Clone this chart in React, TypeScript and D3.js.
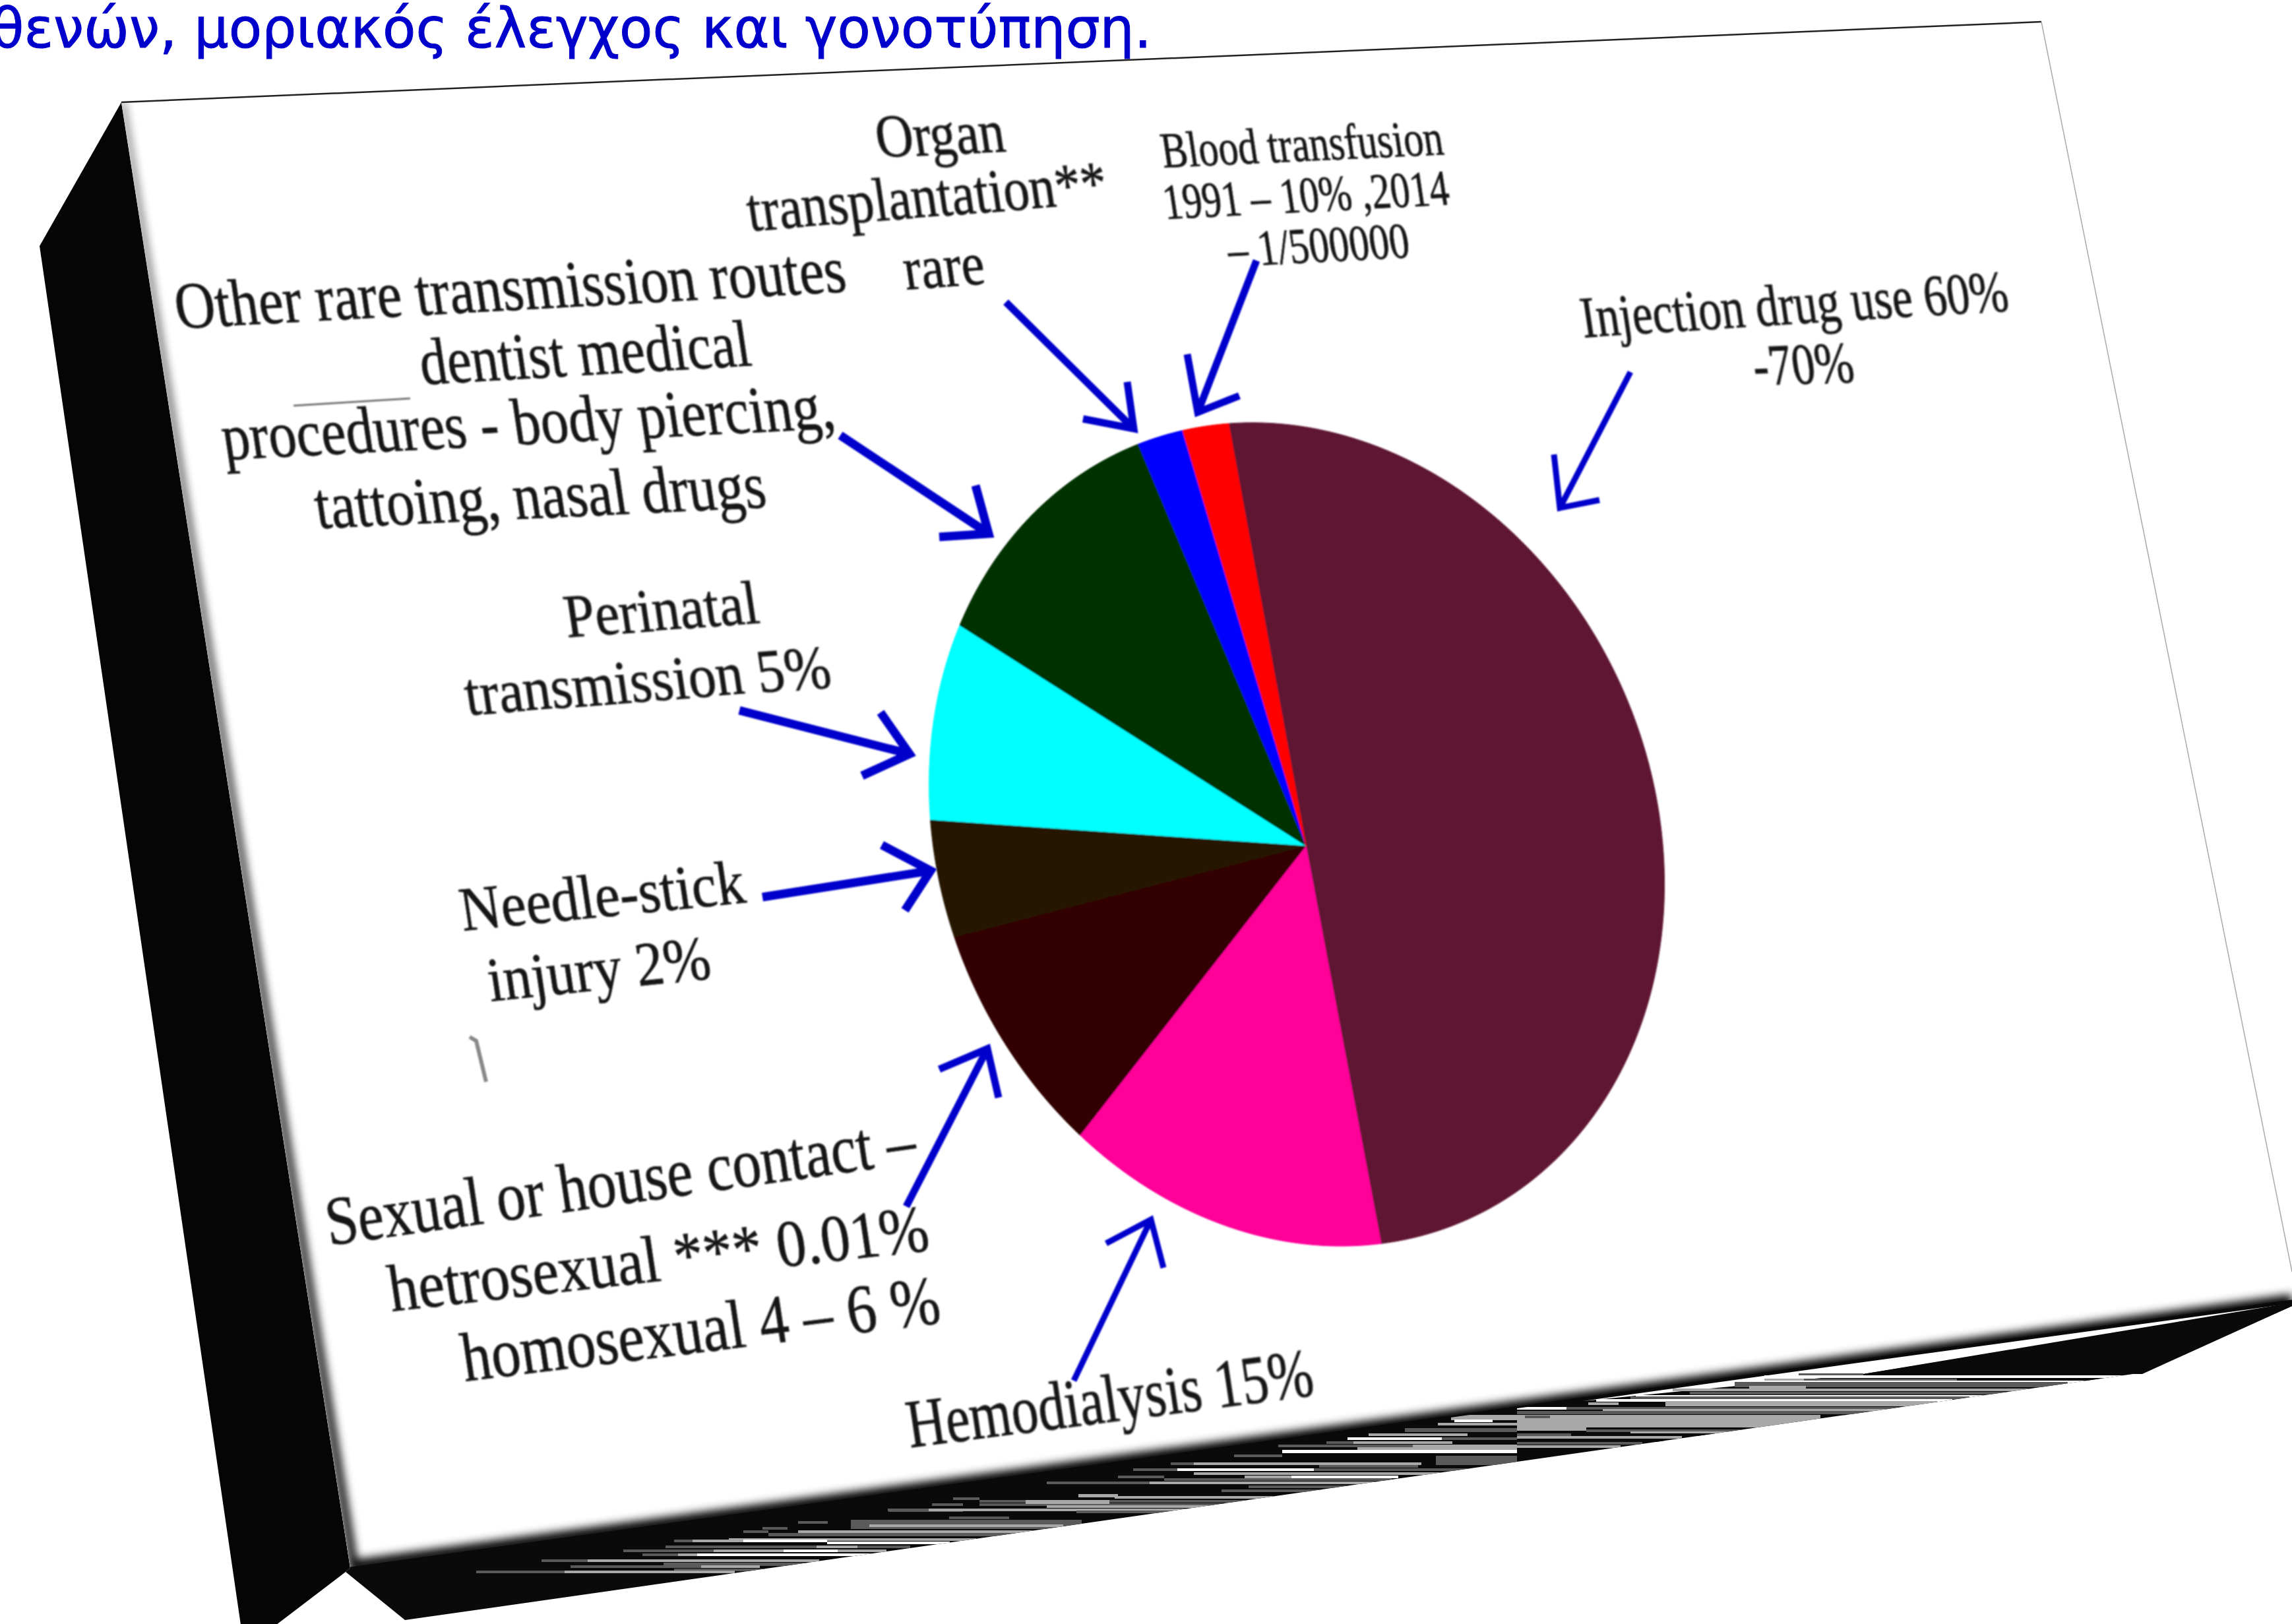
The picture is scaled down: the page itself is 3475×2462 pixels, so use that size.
import React from 'react';
import * as d3 from 'd3';

const W = 3475;
const H = 2462;

// slices, clockwise from the top
const sliceNames = ['Injection drug use', 'Hemodialysis', 'Sexual or house contact', 'Needle-stick injury', 'Perinatal transmission', 'Other rare routes', 'Organ transplantation', 'Blood transfusion'];
const sliceValues = [50, 14, 9, 4.5, 7.7, 11, 2, 2];
const sliceColors = ['#5f1733', '#ff0099', '#300000', '#261800', '#00ffff', '#003000', '#0000ff', '#ff0000'];

const titleText = 'θενών, μοριακός έλεγχος και γονοτύπηση.';

// text, baseline start x/y, baseline end x/y, font size
const labelLines: [string, number, number, number, number, number][] = [
  ['Organ', 1332, 238, 1527, 230, 92],
  ['transplantation**', 1137, 350, 1682, 307, 92],
  ['rare', 1374, 439, 1496, 430, 92],
  ['Blood transfusion', 1764, 254, 2191, 234, 76],
  ['1991 – 10% ,2014', 1767, 332, 2200, 310, 76],
  ['– 1/500000', 1865, 404, 2140, 390, 76],
  ['Injection drug use 60%', 2401, 511, 3048, 470, 88],
  ['-70%', 2662, 584, 2814, 578, 88],
  ['Other rare transmission routes', 270, 498, 1286, 442, 100],
  ['dentist medical', 641, 583, 1142, 554, 100],
  ['procedures - body piercing,', 341, 697, 1269, 649, 100],
  ['tattoing, nasal drugs', 482, 801, 1165, 769, 100],
  ['Perinatal', 860, 966, 1154, 944, 92],
  ['transmission 5%', 709, 1084, 1263, 1041, 92],
  ['Needle-stick', 702, 1411, 1133, 1368, 94],
  ['injury 2%', 744, 1518, 1081, 1483, 94],
  ['Sexual or house contact –', 499, 1888, 1392, 1762, 104],
  ['hetrosexual ***  0.01%', 594, 1988, 1412, 1895, 100],
  ['homosexual  4 – 6 %', 705, 2094, 1429, 2005, 104],
  ['Hemodialysis 15%', 1380, 2195, 1995, 2115, 102],
];

// tail, tip, two head ends, stroke width
const arrows: number[][] = [
  [1905, 395, 1816, 625, 1800, 537, 1879, 600, 11],
  [2472, 564, 2365, 770, 2356, 689, 2425, 758, 9],
  [1525, 458, 1719, 650, 1709, 579, 1642, 635, 11],
  [1274, 660, 1499, 809, 1479, 736, 1424, 814, 13],
  [1121, 1077, 1379, 1143, 1335, 1080, 1307, 1176, 13],
  [1156, 1360, 1411, 1320, 1337, 1281, 1372, 1380, 13],
  [1374, 1829, 1497, 1590, 1424, 1621, 1514, 1664, 11],
  [1628, 2093, 1745, 1849, 1677, 1885, 1764, 1922, 9],
];

// pie projection onto the tilted card
const apex = [1980, 1282];
const A = [557, 0, 75, 619];
const tilt = [0.025, 0.0245];
const project = (angle: number): [number, number] => {
  const ux = Math.sin(angle);
  const uy = -Math.cos(angle);
  const k = 1 + tilt[0] * ux + tilt[1] * uy;
  return [apex[0] + (A[0] * ux + A[1] * uy) / k, apex[1] + (A[2] * ux + A[3] * uy) / k];
};

const pieStart = (-11.8 * Math.PI) / 180;
const pie = d3
  .pie<number>()
  .sort(null)
  .startAngle(pieStart)
  .endAngle(pieStart + 2 * Math.PI);
const line = d3.line();
const sliceArcs = pie(sliceValues);

const slicePath = (a: d3.PieArcDatum<number>) => {
  const n = Math.max(2, Math.ceil((a.endAngle - a.startAngle) / 0.01));
  const pts = d3.range(n + 1).map((i) => project(a.startAngle + ((a.endAngle - a.startAngle) * i) / n));
  return line([apex as [number, number], ...pts]) + 'Z';
};

const poly = (p: number[][]) => p.map((d) => d.join(',')).join(' ');

const facePts = [[184, 155], [3095, 33], [3495, 1969], [531, 2377]];
const leftSide = [[184, 155], [60, 373], [366, 2470], [410, 2470], [524, 2383], [531, 2377]];
const bottomSide = [[531, 2377], [524, 2383], [614, 2456], [3248, 2081], [3475, 1980], [3475, 1972]];
const shadowPts = [[184, 155], [188, 155], [541, 2364], [3475, 1962], [3475, 1990], [531, 2385]];
const whiteStrip = [[2400, 2124], [2825, 2065], [3475, 1976], [3475, 1979], [2825, 2083], [2560, 2108]];
const wedge = [[2825, 2083], [3475, 1975], [3475, 1980], [3248, 2083]];

const d = '#5a5a5a';
const l = '#a8a8a8';
const w = '#ffffff';
const k = '#0a0a0a';

// the torn streaks in the bottom side: y, x from, x to, tone, height
const streaks: [number, number, number, string, number?][] = [
  [2288, 1347, 1460, d], [2304, 1290, 1640, d, 14], [2306, 1210, 1255, d], [2311, 1318, 1612, l],
  [2315, 1156, 1194, d], [2320, 1127, 1165, d], [2320, 1210, 1575, l], [2324, 1165, 1550, d, 5],
  [2332, 1105, 1480, l], [2334, 1022, 1050, d], [2334, 1050, 1127, l], [2334, 1127, 1254, w],
  [2337, 1254, 1440, w], [2343, 1009, 1380, d], [2343, 1238, 1300, l], [2349, 945, 1082, d],
  [2349, 1082, 1188, l], [2349, 1188, 1270, w], [2349, 1270, 1344, l], [2355, 974, 1028, d],
  [2355, 1028, 1057, l], [2355, 1057, 1331, w], [2364, 821, 891, d], [2364, 891, 1242, l],
  [2369, 1006, 1230, d, 5], [2373, 865, 1063, d], [2373, 1063, 1152, l], [2378, 1022, 1160, d],
  [2381, 722, 856, d], [2381, 856, 1114, l],
  [2299, 1439, 1530, d], [2287, 1346, 1408, d], [2287, 1408, 1810, l], [2290, 1632, 1780, d],
  [2279, 1413, 1460, d], [2279, 1485, 1860, d], [2282, 1587, 1835, l], [2270, 1445, 1485, d],
  [2274, 1485, 1555, d], [2274, 1555, 1682, l, 6], [2274, 1682, 1900, d], [2265, 1635, 1695, l, 5],
  [2268, 1690, 1938, l], [2258, 1852, 2008, d], [2252, 1893, 2059, d], [2246, 1587, 1743, d],
  [2246, 1743, 2085, l], [2241, 1765, 2110, d], [2237, 1695, 1765, d], [2237, 1887, 1958, l],
  [2237, 1958, 2120, w], [2232, 1810, 2190, l], [2226, 1718, 1785, d], [2226, 1785, 1992, w],
  [2226, 1992, 2244, d], [2220, 2000, 2150, d, 5], [2217, 1775, 1810, d], [2217, 1810, 2155, l],
  [2207, 2177, 2300, d, 14], [2205, 1871, 1944, d], [2198, 1944, 2300, w, 5], [2194, 2058, 2300, l],
  [2190, 1938, 2142, d], [2190, 2142, 2300, l], [2185, 2011, 2052, d], [2185, 2052, 2202, l],
  [2179, 2043, 2186, w], [2179, 2186, 2300, d], [2173, 2075, 2225, l], [2165, 2130, 2300, d, 6],
  [2157, 2180, 2300, l], [2145, 2200, 2300, l, 8], [2152, 2205, 2263, w],
  [2082, 2727, 2825, d], [2085, 2675, 3245, w], [2090, 2675, 2735, l], [2090, 2735, 2967, d],
  [2090, 2967, 3192, k], [2093, 2640, 3170, w], [2095, 2630, 3135, d, 8], [2101, 2652, 2738, l],
  [2105, 2536, 3087, l], [2110, 2562, 3050, d], [2115, 2480, 3020, w], [2117, 2472, 2986, d],
  [2121, 2420, 2960, w], [2124, 2525, 2937, l, 8], [2126, 2408, 2454, l], [2133, 2300, 2430, w, 4],
  [2133, 2375, 2877, d], [2136, 2430, 2860, l], [2139, 2300, 2836, d, 5], [2145, 2300, 2760, l, 19],
  [2146, 2312, 2350, d], [2164, 2300, 2405, l, 5], [2167, 2405, 2652, d, 4], [2170, 2472, 2625, l],
  [2173, 2300, 2382, d], [2173, 2382, 2600, k], [2177, 2300, 2550, l], [2182, 2300, 2525, k],
  [2186, 2300, 2490, d], [2191, 2300, 2457, l],
];

const label = ([text, x0, y0, x1, y1, size]: (typeof labelLines)[number]) => {
  const len = Math.hypot(x1 - x0, y1 - y0);
  const ux = (x1 - x0) / len;
  const uy = (y1 - y0) / len;
  return (
    <text
      key={text}
      transform={`matrix(${ux},${uy},0.15,1,${x0},${y0})`}
      fontFamily="'Liberation Serif', serif"
      fontSize={size}
      fill="#161616"
      stroke="#161616"
      strokeWidth={0.8}
      textLength={len}
      lengthAdjust="spacingAndGlyphs"
    >
      {text}
    </text>
  );
};

const App = () => (
  <svg width={W} height={H} style={{ position: 'fixed', left: 0, top: 0, display: 'block', background: '#fff' }}>
    <defs>
      <clipPath id="face-clip"><polygon points={poly(facePts)} /></clipPath>
      <clipPath id="bottom-clip"><polygon points={poly(bottomSide)} /></clipPath>
      <filter id="edge-blur" filterUnits="userSpaceOnUse" x="0" y="0" width={W} height={H}>
        <feGaussianBlur stdDeviation="7" />
      </filter>
      <filter id="soft" filterUnits="userSpaceOnUse" x="0" y="0" width={W} height={H}>
        <feGaussianBlur stdDeviation="1.1" />
      </filter>
    </defs>

    <text
      x={-14}
      y={72}
      fontFamily="'DejaVu Sans', sans-serif"
      fontSize={84}
      fill="#0000cc"
      stroke="#0000cc"
      strokeWidth={1}
      textLength={1760}
      lengthAdjust="spacingAndGlyphs"
    >
      {titleText}
    </text>

    <polygon points={poly(leftSide)} fill="#050505" />
    <polygon points={poly(bottomSide)} fill={k} />
    <polygon points={poly(whiteStrip)} fill="#fff" />
    <polygon points={poly(wedge)} fill={k} />
    <g clipPath="url(#bottom-clip)" shapeRendering="crispEdges">
      {streaks.map(([y, x0, x1, tone, h], i) => (
        <rect key={i} x={x0} y={y} width={x1 - x0} height={h ?? 4} fill={tone} />
      ))}
    </g>

    <polygon points={poly(facePts)} fill="#fff" />
    <g clipPath="url(#face-clip)">
      <polygon points={poly(shadowPts)} fill="#000" filter="url(#edge-blur)" />
    </g>
    <line x1={184} y1={155} x2={3095} y2={33} stroke="#222" strokeWidth={2.5} />
    <line x1={3095} y1={33} x2={3475} y2={1928} stroke="#aaa" strokeWidth={1.5} />
    <line x1={531} y1={2377} x2={3475} y2={1972} stroke={k} strokeWidth={3} />

    <g filter="url(#soft)">
      {sliceArcs.map((a, i) => (
        <path key={sliceNames[i]} d={slicePath(a)} fill={sliceColors[i]} stroke={sliceColors[i]} strokeWidth={1} />
      ))}
    </g>

    <g filter="url(#soft)">
      {arrows.map(([x0, y0, x1, y1, hx0, hy0, hx1, hy1, sw], i) => (
        <path
          key={i}
          d={`${line([[x0, y0], [x1, y1]])}${line([[hx0, hy0], [x1, y1], [hx1, hy1]])}`}
          fill="none"
          stroke="#0000cc"
          strokeWidth={sw}
        />
      ))}
      {labelLines.map(label)}
      <line x1={445} y1={615} x2={622} y2={604} stroke="#777" strokeWidth={3} />
      <path d={line([[712, 1572], [722, 1578], [737, 1640]]) ?? ''} fill="none" stroke="#888" strokeWidth={6} />
    </g>
  </svg>
);

export default App;
